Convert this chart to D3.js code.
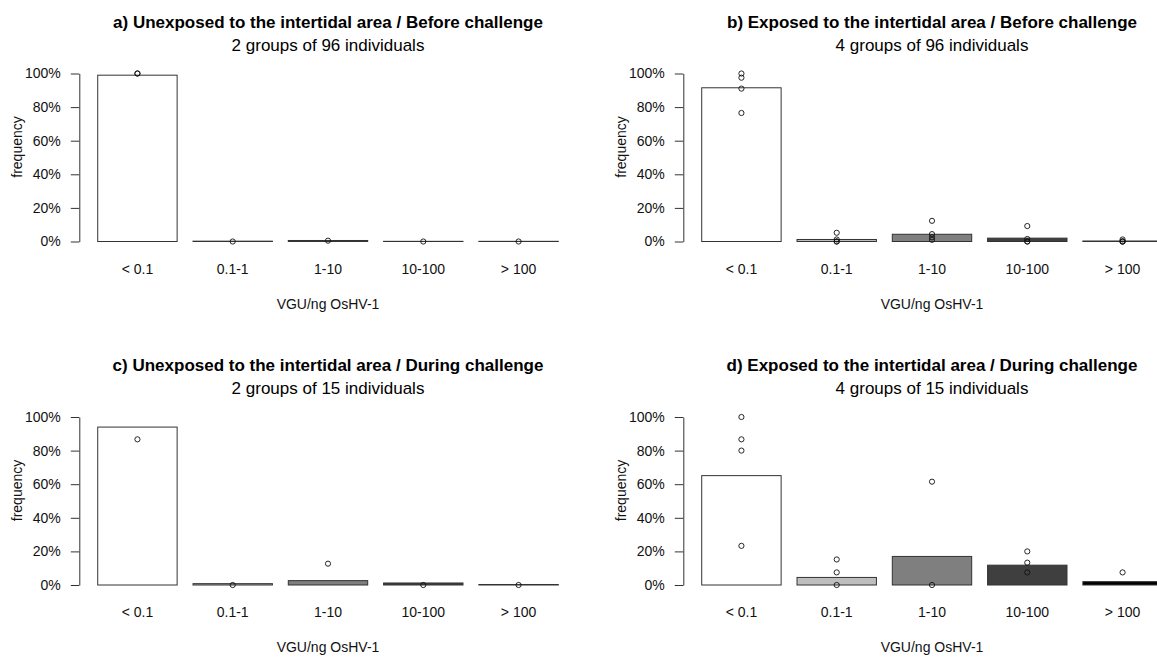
<!DOCTYPE html>
<html>
<head>
<meta charset="utf-8">
<script src="https://cdn.jsdelivr.net/npm/d3@7"></script>
<style>
  html, body { margin: 0; padding: 0; background: #fff; }
  svg { display: block; font-family: "Liberation Sans", Arial, sans-serif; }
</style>
</head>
<body>
<svg id="chart" width="1157" height="657"></svg>
<script>
// ---------------- data ----------------
const categories = ["< 0.1", "0.1-1", "1-10", "10-100", "> 100"];
const yTickValues = [0, 0.2, 0.4, 0.6, 0.8, 1.0];
const yTickLabels = ["0%", "20%", "40%", "60%", "80%", "100%"];

const titles = [
  "a) Unexposed to the intertidal area / Before challenge",
  "b) Exposed to the intertidal area / Before challenge",
  "c) Unexposed to the intertidal area / During challenge",
  "d) Exposed to the intertidal area / During challenge"
];
const subtitles = [
  "2 groups of 96 individuals",
  "4 groups of 96 individuals",
  "2 groups of 15 individuals",
  "4 groups of 15 individuals"
];
const xTitle = "VGU/ng OsHV-1";
const yTitle = "frequency";

// bar heights (frequency) per category
const barsA = [0.99, 0.002, 0.006, 0.001, 0.001];
const barsB = [0.915, 0.012, 0.043, 0.02, 0.003];
const barsC = [0.94, 0.008, 0.026, 0.012, 0.003];
const barsD = [0.651, 0.045, 0.17, 0.118, 0.02];

// group-level points per category
const pointsA = [[1.0, 1.0], [0], [0.005], [0], [0]];
const pointsB = [[1.0, 0.975, 0.91, 0.765], [0.052, 0.012, 0, 0], [0.123, 0.044, 0.025, 0.01], [0.092, 0.015, 0, 0], [0.012, 0, 0, 0]];
const pointsC = [[0.867], [0], [0.127], [0], [0]];
const pointsD = [[1.0, 0.867, 0.8, 0.233], [0.152, 0.075, 0], [0.615, 0], [0.2, 0.133, 0.075], [0.075]];

// ---------------- style ----------------
const fills = ["#ffffff", "#bebebe", "#7f7f7f", "#3f3f3f", "#000000"];
const panels = [
  { bars: barsA, points: pointsA, dx: 0,   dy: 0 },
  { bars: barsB, points: pointsB, dx: 604, dy: 0 },
  { bars: barsC, points: pointsC, dx: 0,   dy: 343.5 },
  { bars: barsD, points: pointsD, dx: 604, dy: 343.5 }
];

const svg = d3.select("#chart");

// barplot coordinates: bar i spans [0.2 + 1.2 i, 1.2 + 1.2 i]
const x = d3.scaleLinear().domain([-0.032, 6.232]).range([79.3, 576.7]);
const y = d3.scaleLinear().domain([0, 1]).range([241.5, 73.5]);
const barLeft = i => 0.2 + 1.2 * i;

panels.forEach((p, k) => {
  const g = svg.append("g").attr("transform", `translate(${p.dx},${p.dy})`);
  const cx = (x.range()[0] + x.range()[1]) / 2;

  // titles
  g.append("text").attr("x", cx).attr("y", 27.5)
    .attr("text-anchor", "middle").attr("font-weight", "bold")
    .attr("font-size", 17).attr("fill", "#000").text(titles[k]);
  g.append("text").attr("x", cx).attr("y", 50.5)
    .attr("text-anchor", "middle")
    .attr("font-size", 17).attr("fill", "#000").text(subtitles[k]);

  // bars
  g.selectAll("rect.bar").data(p.bars).enter().append("rect")
    .attr("class", "bar")
    .attr("x", (d, i) => x(barLeft(i)))
    .attr("width", (d, i) => x(barLeft(i) + 1) - x(barLeft(i)))
    .attr("y", d => y(d))
    .attr("height", d => y(0) - y(d))
    .attr("fill", (d, i) => fills[i])
    .attr("stroke", "#333")
    .attr("stroke-width", 1);

  // points
  p.points.forEach((vals, i) => {
    g.selectAll(null).data(vals).enter().append("circle")
      .attr("cx", x(barLeft(i) + 0.5))
      .attr("cy", d => y(d))
      .attr("r", 2.6)
      .attr("fill", "none")
      .attr("stroke", "#111")
      .attr("stroke-width", 0.9);
  });

  // y axis
  const yAxis = d3.axisLeft(y)
    .tickValues(yTickValues)
    .tickFormat((d, i) => yTickLabels[i])
    .tickSizeInner(8.5).tickSizeOuter(0).tickPadding(10);
  const ya = g.append("g").attr("transform", `translate(${x.range()[0]},0)`).call(yAxis);
  ya.select(".domain").attr("stroke", "#333");
  ya.selectAll(".tick line").attr("stroke", "#333");
  ya.selectAll(".tick text").attr("font-size", 14).attr("fill", "#111")
    .attr("font-family", "\"Liberation Sans\", Arial, sans-serif");

  // x category labels
  g.selectAll("text.xcat").data(categories).enter().append("text")
    .attr("class", "xcat")
    .attr("x", (d, i) => x(barLeft(i) + 0.5))
    .attr("y", 273.5)
    .attr("text-anchor", "middle")
    .attr("font-size", 14).attr("fill", "#111")
    .text(d => d);

  // axis titles
  g.append("text").attr("x", cx).attr("y", 308.5)
    .attr("text-anchor", "middle").attr("font-size", 14).attr("fill", "#111")
    .text(xTitle);
  g.append("text")
    .attr("transform", `translate(21.5,147) rotate(-90)`)
    .attr("text-anchor", "middle").attr("font-size", 14).attr("fill", "#111")
    .text(yTitle);
});
</script>
</body>
</html>
